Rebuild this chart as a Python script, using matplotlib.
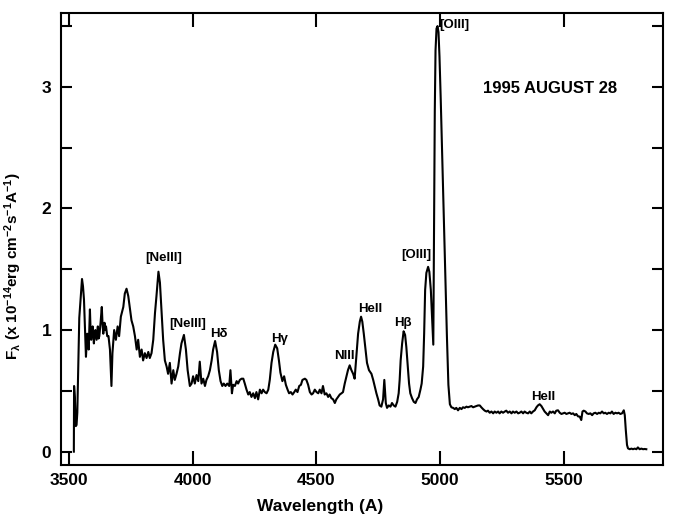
import numpy as np
import matplotlib
matplotlib.use('Agg')
import matplotlib.pyplot as plt
from matplotlib.ticker import MultipleLocator, FixedLocator

plt.rcParams['font.family'] = ['Liberation Sans', 'DejaVu Sans']
plt.rcParams['font.weight'] = 'bold'
plt.rcParams['mathtext.default'] = 'regular'

# spectrum: wavelength (A) and flux (1e-14 erg/cm2/s/A)
wave_blue = [3520, 3521, 3524, 3528, 3531, 3534, 3538, 3542, 3547, 3553, 3557, 3561, 3566, 3569,
             3574, 3577, 3580, 3585, 3588, 3590, 3593, 3596, 3601, 3604, 3607, 3612, 3615, 3617,
             3620, 3623, 3628, 3633, 3636, 3639, 3644, 3647, 3650, 3655, 3660, 3666, 3672, 3676,
             3683, 3690, 3697, 3703, 3710, 3720, 3726, 3733, 3740, 3747, 3753, 3760, 3767, 3774,
             3780, 3787, 3794, 3800, 3807, 3814, 3821, 3827, 3834, 3841, 3848, 3854, 3862, 3868,
             3875, 3881, 3888, 3895, 3901, 3908, 3915, 3922, 3928, 3935, 3942, 3949, 3955, 3965,
             3973, 3980]
flux_blue = [0.00, 0.54, 0.45, 0.21, 0.22, 0.32, 0.70, 1.10, 1.25, 1.42, 1.36, 1.25, 0.95, 0.78,
             0.97, 0.90, 0.84, 1.17, 0.98, 0.92, 1.00, 1.03, 0.89, 0.96, 1.00, 0.92, 0.99, 1.03,
             0.93, 0.95, 1.06, 1.19, 1.05, 0.97, 1.06, 1.00, 1.03, 0.95, 0.95, 0.84, 0.54, 0.81,
             1.00, 0.92, 1.03, 0.95, 1.11, 1.19, 1.30, 1.34, 1.28, 1.17, 1.08, 1.03, 0.95, 0.84,
             0.92, 0.78, 0.84, 0.75, 0.81, 0.77, 0.82, 0.77, 0.81, 0.92, 1.14, 1.28, 1.48, 1.39,
             1.14, 0.92, 0.75, 0.70, 0.64, 0.73, 0.56, 0.67, 0.59, 0.64, 0.70, 0.81, 0.89, 0.96,
             0.84, 0.67]

wave_mid = [3989, 3996, 4002, 4009, 4016, 4023, 4029, 4036, 4043, 4050, 4056, 4063, 4070, 4077,
            4083, 4091, 4099, 4106, 4113, 4120, 4126, 4133, 4140, 4148, 4153, 4159, 4164, 4171,
            4178, 4184, 4191, 4198, 4205, 4211, 4218, 4225, 4231, 4238, 4245, 4252, 4258, 4265,
            4272, 4279, 4285, 4292, 4299, 4306, 4312, 4319, 4326, 4334, 4342, 4349, 4355, 4363,
            4370, 4377, 4384, 4390, 4397, 4404, 4411, 4417, 4424, 4431, 4438, 4444, 4454, 4460,
            4467, 4474, 4481, 4487, 4494, 4501, 4508]
flux_mid = [0.54, 0.56, 0.62, 0.56, 0.63, 0.58, 0.74, 0.56, 0.60, 0.54, 0.59, 0.62, 0.67, 0.75,
            0.84, 0.91, 0.82, 0.67, 0.58, 0.54, 0.56, 0.54, 0.56, 0.54, 0.67, 0.48, 0.55, 0.54,
            0.58, 0.56, 0.59, 0.60, 0.60, 0.56, 0.51, 0.47, 0.49, 0.45, 0.48, 0.44, 0.49, 0.43,
            0.51, 0.48, 0.51, 0.49, 0.48, 0.51, 0.59, 0.73, 0.82, 0.88, 0.85, 0.75, 0.65, 0.58,
            0.62, 0.55, 0.51, 0.48, 0.49, 0.47, 0.49, 0.51, 0.49, 0.54, 0.55, 0.59, 0.60, 0.59,
            0.55, 0.49, 0.47, 0.48, 0.51, 0.49, 0.48]

wave_red = [4514, 4521, 4527, 4534, 4541, 4548, 4554, 4561, 4568, 4575, 4581, 4588, 4595, 4602,
            4608, 4615, 4622, 4628, 4635, 4642, 4649, 4655, 4662, 4669, 4676, 4681, 4686, 4692,
            4699, 4705, 4713, 4723, 4730, 4736, 4743, 4750, 4756, 4763, 4770, 4775, 4781, 4786,
            4793, 4800, 4806, 4813, 4820, 4827, 4833, 4837, 4841, 4847, 4853, 4859, 4864, 4870,
            4875, 4880, 4887, 4894, 4901, 4907, 4914, 4921, 4926, 4932, 4936, 4940, 4945, 4952,
            4957, 4963, 4968, 4973, 4975, 4977, 4979, 4982, 4986, 4990, 4994, 4998, 5003, 5010,
            5016, 5022, 5028, 5034, 5040]
flux_red = [0.51, 0.48, 0.54, 0.47, 0.48, 0.45, 0.47, 0.44, 0.43, 0.40, 0.43, 0.45, 0.47, 0.48,
            0.49, 0.56, 0.62, 0.67, 0.71, 0.67, 0.64, 0.60, 0.78, 0.97, 1.07, 1.11, 1.07, 0.97,
            0.84, 0.73, 0.67, 0.64, 0.59, 0.54, 0.48, 0.43, 0.38, 0.37, 0.43, 0.59, 0.40, 0.36,
            0.38, 0.37, 0.40, 0.38, 0.37, 0.41, 0.48, 0.59, 0.75, 0.89, 0.99, 0.96, 0.86, 0.70,
            0.56, 0.48, 0.44, 0.41, 0.40, 0.43, 0.45, 0.51, 0.56, 0.70, 0.97, 1.33, 1.47, 1.52,
            1.48, 1.33, 1.11, 0.88, 1.50, 2.20, 2.80, 3.30, 3.48, 3.50, 3.45, 3.25, 2.90, 2.35,
            1.85, 1.40, 0.95, 0.55, 0.39]

wave_cont = [5046, 5053, 5060, 5066, 5073, 5080, 5087, 5093, 5100, 5107, 5113, 5120, 5127, 5134,
             5140, 5147, 5154, 5161, 5167, 5174, 5181, 5188, 5194, 5201, 5208, 5215, 5221, 5228,
             5235, 5241, 5248, 5255, 5262, 5268, 5275, 5282, 5289, 5295, 5302, 5309, 5316, 5322,
             5329, 5336, 5342, 5349, 5356, 5363, 5369, 5376, 5383, 5390, 5396, 5403, 5410, 5417,
             5423, 5430, 5437, 5444, 5450, 5457, 5464, 5470, 5477, 5484, 5491, 5497, 5504, 5511,
             5518, 5524, 5531, 5538, 5545, 5551, 5558, 5565, 5571, 5576, 5581, 5588, 5594, 5601,
             5608, 5615, 5621, 5628, 5635, 5642, 5648, 5655, 5662, 5668, 5675, 5682, 5689, 5695,
             5702, 5709, 5716, 5722, 5729, 5736, 5743, 5747, 5751, 5756, 5760, 5767, 5774, 5780,
             5787, 5794, 5800, 5807, 5814, 5821, 5827, 5834]
flux_cont = [0.365, 0.36, 0.35, 0.36, 0.34, 0.36, 0.35, 0.365, 0.36, 0.37, 0.365, 0.37, 0.375, 0.365,
             0.37, 0.375, 0.38, 0.38, 0.365, 0.35, 0.337, 0.33, 0.337, 0.32, 0.33, 0.315, 0.33, 0.32,
             0.33, 0.315, 0.33, 0.32, 0.33, 0.337, 0.32, 0.33, 0.315, 0.33, 0.32, 0.33, 0.315, 0.32,
             0.33, 0.315, 0.33, 0.32, 0.315, 0.33, 0.315, 0.33, 0.34, 0.365, 0.38, 0.39, 0.375, 0.35,
             0.33, 0.315, 0.30, 0.33, 0.32, 0.33, 0.315, 0.337, 0.34, 0.32, 0.31, 0.315, 0.32, 0.31,
             0.315, 0.32, 0.31, 0.315, 0.30, 0.31, 0.29, 0.288, 0.26, 0.33, 0.337, 0.33, 0.315, 0.31,
             0.315, 0.30, 0.315, 0.32, 0.31, 0.32, 0.315, 0.33, 0.315, 0.32, 0.31, 0.32, 0.315, 0.33,
             0.31, 0.32, 0.315, 0.32, 0.31, 0.315, 0.34, 0.30, 0.18, 0.055, 0.027, 0.02, 0.025, 0.02,
             0.025, 0.02, 0.035, 0.02, 0.025, 0.02, 0.022, 0.02]

# line identifications: text, wavelength, flux (centre of the label)
line_names = ['[NeIII]', '[NeIII]', 'Hδ', 'Hγ', 'NIII', 'HeII', 'Hβ', '[OIII]', 'HeII']
line_wave = [3884, 3982, 4108, 4353, 4612, 4716, 4852, 4905, 5419]
line_flux = [1.59, 1.05, 0.97, 0.93, 0.79, 1.17, 1.06, 1.62, 0.45]

wave = wave_blue + wave_mid + wave_red + wave_cont
flux = flux_blue + flux_mid + flux_red + flux_cont

fig = plt.figure(figsize=(6.73, 5.19), dpi=100)
ax = fig.add_axes([0.0906, 0.104, 0.894, 0.8715])

ax.plot(wave, flux, color='black', linewidth=1.5)

for name, w, f in zip(line_names, line_wave, line_flux):
    ax.text(w, f, name, ha='center', va='center', fontsize=9.5, fontweight='bold')
ax.text(4999, 3.51, '[OIII]', ha='left', va='center', fontsize=9.5, fontweight='bold')
ax.text(5443, 2.985, '1995 AUGUST 28', ha='center', va='center', fontsize=12, fontweight='bold')

ax.set_xlim(3468, 5900)
ax.set_ylim(-0.11, 3.61)
ax.xaxis.set_major_locator(FixedLocator([3500, 4000, 4500, 5000, 5500]))
ax.yaxis.set_major_locator(MultipleLocator(1))
ax.yaxis.set_minor_locator(MultipleLocator(0.5))
ax.tick_params(axis='x', which='both', direction='in', top=True, bottom=True,
               length=10, width=1.5, labelsize=12.5, pad=6)
ax.tick_params(axis='y', which='both', direction='in', left=True, right=True,
               length=8, width=1.5, labelsize=12.5, pad=7)
for s in ax.spines.values():
    s.set_linewidth(1.5)

ax.set_xlabel('Wavelength (A)', fontsize=12.5, fontweight='bold')
ax.xaxis.set_label_coords(0.43, -0.075)
ax.set_ylabel('F$_\\lambda$ (x 10$^{-14}$erg cm$^{-2}$s$^{-1}$A$^{-1}$)', fontsize=11, fontweight='bold')
ax.yaxis.set_label_coords(-0.062, 0.44)

fig.savefig('out.png', dpi=100)
